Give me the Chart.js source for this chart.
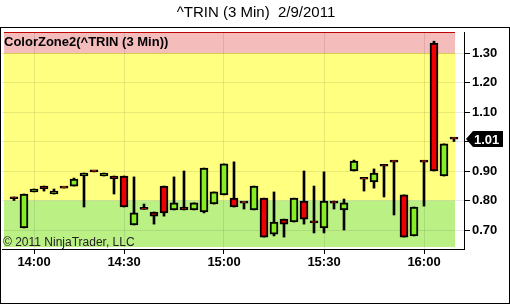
<!DOCTYPE html>
<html>
<head>
<meta charset="utf-8">
<script src="https://cdn.jsdelivr.net/npm/chart.js@4"></script>
<style>
  body { margin: 0; background: #fff; }
  canvas { display: block; }
</style>
</head>
<body>
<canvas id="myChart" width="510" height="305"></canvas>
<script>
const times = ['13:54', '13:57', '14:00', '14:03', '14:06', '14:09', '14:12', '14:15', '14:18', '14:21', '14:24',
  '14:30', '14:33', '14:36', '14:39', '14:42', '14:45', '14:48', '14:51', '14:54', '14:57',
  '15:00', '15:03', '15:06', '15:09', '15:12', '15:15', '15:18', '15:21', '15:24', '15:27',
  '15:30', '15:33', '15:36', '15:39', '15:42', '15:45', '15:48', '15:51', '15:54', '15:57',
  '16:00', '16:03', '16:06', '16:09'];

const open = [0.812, 0.707, 0.829, 0.849, 0.822, 0.843, 0.849, 0.883, 0.900, 0.883, 0.883,
  0.883, 0.717, 0.772, 0.761, 0.849, 0.768, 0.778, 0.768, 0.761, 0.788,
  0.819, 0.808, 0.792, 0.768, 0.808, 0.686, 0.737, 0.727, 0.798, 0.731,
  0.707, 0.792, 0.768, 0.900, 0.873, 0.863, 0.917, 0.931, 0.819, 0.680,
  0.931, 1.334, 0.883, 1.010];
const high = [0.812, 0.822, 0.839, 0.849, 0.839, 0.843, 0.876, 0.893, 0.900, 0.893, 0.883,
  0.883, 0.880, 0.788, 0.761, 0.849, 0.880, 0.900, 0.792, 0.910, 0.829,
  0.924, 0.931, 0.792, 0.849, 0.808, 0.829, 0.737, 0.808, 0.900, 0.849,
  0.897, 0.798, 0.805, 0.937, 0.873, 0.907, 0.920, 0.934, 0.819, 0.778,
  0.934, 1.340, 0.992, 1.012];
const low = [0.800, 0.707, 0.829, 0.832, 0.822, 0.842, 0.849, 0.778, 0.897, 0.883, 0.822,
  0.778, 0.717, 0.770, 0.720, 0.747, 0.768, 0.768, 0.768, 0.758, 0.788,
  0.819, 0.778, 0.771, 0.768, 0.676, 0.680, 0.676, 0.727, 0.720, 0.690,
  0.690, 0.771, 0.700, 0.900, 0.832, 0.842, 0.812, 0.751, 0.676, 0.680,
  0.781, 0.900, 0.883, 1.000];
const close = [0.806, 0.822, 0.839, 0.839, 0.832, 0.842, 0.873, 0.893, 0.897, 0.893, 0.873,
  0.778, 0.758, 0.770, 0.747, 0.758, 0.792, 0.768, 0.792, 0.910, 0.829,
  0.924, 0.778, 0.791, 0.849, 0.676, 0.727, 0.720, 0.808, 0.737, 0.724,
  0.798, 0.791, 0.792, 0.934, 0.872, 0.893, 0.916, 0.930, 0.676, 0.778,
  0.930, 0.900, 0.992, 1.008];

// color zones: below 0.80 green, 0.80-1.30 yellow, above 1.30 red
const zoneLevels = [0.80, 1.30];

const font = "'Liberation Sans', Arial, sans-serif";
const tickIdx = times.map((t, i) => i).filter(i => /:(00|30)$/.test(times[i]));
const lastClose = close[close.length - 1];

const zonePlugin = {
  id: 'zones',
  beforeDraw(chart) {
    const { ctx, chartArea: a, scales: { y } } = chart;
    ctx.save();
    ctx.fillStyle = '#fff';
    ctx.fillRect(0, 0, chart.width, chart.height);
    const x0 = a.left + 2, x1 = a.right - 9;
    const yLo = y.getPixelForValue(zoneLevels[0]);
    const yHi = y.getPixelForValue(zoneLevels[1]);
    ctx.fillStyle = '#f5bcbc';
    ctx.fillRect(x0, a.top, x1 - x0, yHi - a.top);
    ctx.fillStyle = '#ffff80';
    ctx.fillRect(x0, yHi, x1 - x0, yLo - yHi);
    ctx.fillStyle = '#bbf085';
    ctx.fillRect(x0, yLo, x1 - x0, a.bottom - 2 - yLo);
    ctx.fillStyle = '#c00000';
    ctx.fillRect(x0, a.top, x1 - x0, 1);
    ctx.fillStyle = '#f0e060';
    ctx.fillRect(x0, yHi, x1 - x0, 1);
    ctx.restore();
  },
  beforeDatasetsDraw(chart) {
    const { ctx } = chart;
    ctx.save();
    ctx.fillStyle = '#000';
    ctx.font = 'bold 13px ' + font;
    ctx.textBaseline = 'alphabetic';
    ctx.fillText('ColorZone2(^TRIN (3 Min))', 4, 46);
    ctx.fillStyle = '#222';
    ctx.font = '12px ' + font;
    ctx.fillText('\u00a9 2011 NinjaTrader, LLC', 3, 246);
    ctx.restore();
  },
  afterDraw(chart) {
    const { ctx, scales: { y } } = chart;
    ctx.save();
    ctx.strokeStyle = '#000';
    ctx.lineWidth = 1;
    ctx.strokeRect(0.5, 27.5, 509, 276);
    const py = Math.round(y.getPixelForValue(lastClose));
    ctx.fillStyle = '#000';
    ctx.beginPath();
    ctx.moveTo(466, py);
    ctx.lineTo(473, py - 8);
    ctx.lineTo(503, py - 8);
    ctx.lineTo(503, py + 8);
    ctx.lineTo(473, py + 8);
    ctx.closePath();
    ctx.fill();
    ctx.fillStyle = '#fff';
    ctx.font = 'bold 13px ' + font;
    ctx.textBaseline = 'middle';
    ctx.fillText(lastClose.toFixed(2), 474, py + 1);
    ctx.restore();
  }
};

const chartEl = document.getElementById('myChart');

const myChart = new Chart(chartEl, {
  type: 'bar',
  data: {
    datasets: [
      {
        label: 'body',
        data: times.map((t, i) => ({ x: i, y: [open[i], close[i]] })),
        backgroundColor: times.map((t, i) => close[i] > open[i] ? '#86ec24' : '#ee0000'),
        borderColor: '#000',
        borderWidth: 2,
        borderSkipped: false,
        minBarLength: 2,
        barThickness: 8,
        grouped: false,
        order: 0
      },
      {
        label: 'wick',
        data: times.map((t, i) => ({ x: i, y: [low[i], high[i]] })),
        backgroundColor: '#000',
        borderWidth: 0,
        barThickness: 2,
        grouped: false,
        order: 1
      }
    ]
  },
  options: {
    responsive: false,
    animation: false,
    layout: { padding: { left: 2, right: 0, top: 0, bottom: 0 } },
    plugins: {
      legend: { display: false },
      tooltip: { enabled: false },
      title: {
        display: true,
        text: '^TRIN (3 Min)  2/9/2011',
        color: '#000',
        font: { family: font, size: 15, weight: 'normal', lineHeight: 1.2 },
        padding: { top: 4, bottom: 10 }
      }
    },
    scales: {
      x: {
        type: 'linear',
        offset: false,
        min: -1.2,
        max: 45,
        afterBuildTicks: (s) => { s.ticks = tickIdx.map(v => ({ value: v })); },
        afterFit: (s) => { s.height = 56; },
        ticks: {
          color: '#000',
          font: { family: font, size: 13, weight: 'bold' },
          padding: 1,
          maxRotation: 0,
          autoSkip: false,
          callback: (v) => times[v]
        },
        grid: { offset: false, color: 'rgba(0,0,0,0.09)', tickColor: '#000', tickLength: 5 },
        border: { color: '#000', width: 1 }
      },
      y: {
        position: 'right',
        min: 0.6356,
        max: 1.3712,
        afterFit: (s) => { s.width = 46; },
        ticks: {
          stepSize: 0.1,
          includeBounds: false,
          color: '#000',
          padding: 2,
          font: { family: font, size: 13, weight: 'bold' },
          callback: (v) => Math.abs(v - 1) < 1e-6 ? '' : v.toFixed(2)
        },
        grid: { color: 'rgba(0,0,0,0.09)', tickColor: '#000', tickLength: 6 },
        border: { color: '#000', width: 1 }
      }
    }
  },
  plugins: [zonePlugin]
});
</script>
</body>
</html>
